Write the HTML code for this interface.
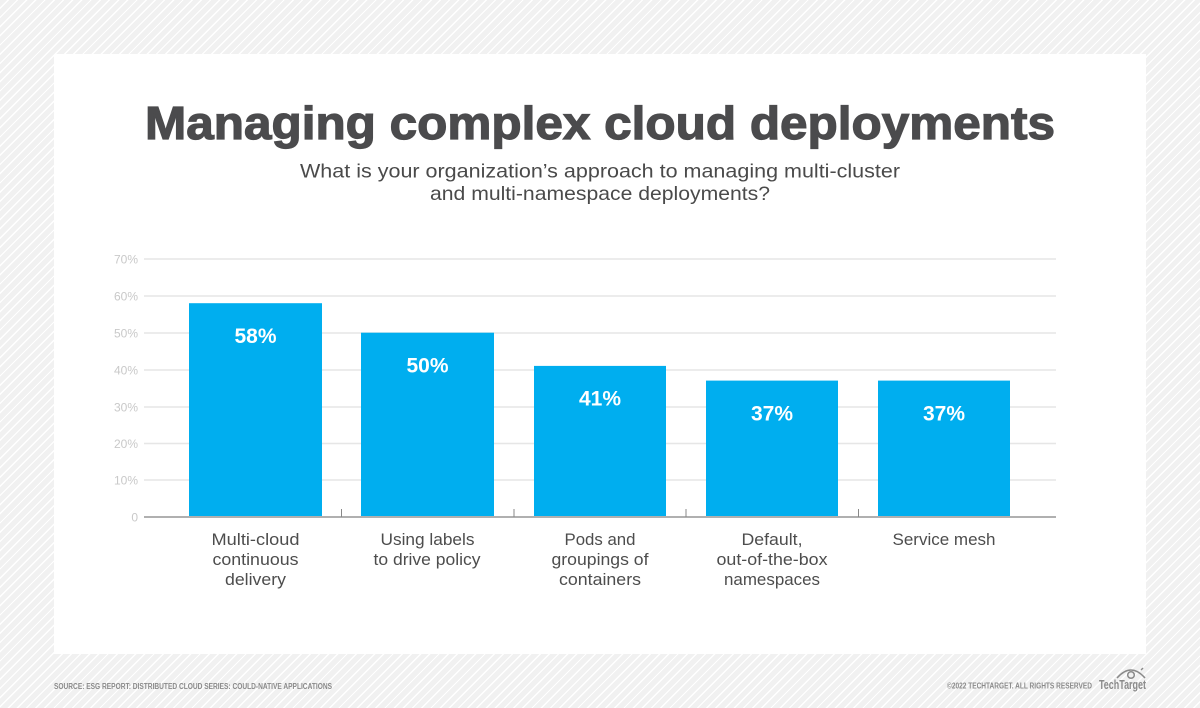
<!DOCTYPE html>
<html><head><meta charset="utf-8"><style>
html,body{margin:0;padding:0;}
body{width:1200px;height:708px;overflow:hidden;background:#f1f1f1;
background-image:repeating-linear-gradient(135deg,#f1f1f1 0px,#f1f1f1 5.2px,#ffffff 5.2px,#ffffff 6.5px);}
svg{display:block;position:absolute;left:0;top:0;}
</style></head><body>
<svg width="1200" height="708" viewBox="0 0 1200 708" xmlns="http://www.w3.org/2000/svg" font-family="Liberation Sans, Arial, sans-serif">
<rect x="54" y="54" width="1092" height="600" fill="#ffffff"/>
<text x="145" y="139" font-size="46" font-weight="bold" fill="#4b4b4d" stroke="#4b4b4d" stroke-width="1.2" textLength="910" lengthAdjust="spacingAndGlyphs">Managing complex cloud deployments</text>
<text x="300" y="177.5" font-size="19.5" fill="#4a4a4a" textLength="600" lengthAdjust="spacingAndGlyphs">What is your organization’s approach to managing multi-cluster</text>
<text x="430" y="200" font-size="19.5" fill="#4a4a4a" textLength="340" lengthAdjust="spacingAndGlyphs">and multi-namespace deployments?</text>
<g stroke="#e6e6e6" stroke-width="1.5">
<line x1="144" y1="259" x2="1056" y2="259"/>
<line x1="144" y1="296" x2="1056" y2="296"/>
<line x1="144" y1="333" x2="1056" y2="333"/>
<line x1="144" y1="370" x2="1056" y2="370"/>
<line x1="144" y1="407" x2="1056" y2="407"/>
<line x1="144" y1="443.5" x2="1056" y2="443.5"/>
<line x1="144" y1="480" x2="1056" y2="480"/>
</g>
<g font-size="12" fill="#c9c9c9" text-anchor="end">
<text x="138" y="263.5">70%</text>
<text x="138" y="300.5">60%</text>
<text x="138" y="337.5">50%</text>
<text x="138" y="374.5">40%</text>
<text x="138" y="411.5">30%</text>
<text x="138" y="448">20%</text>
<text x="138" y="484.5">10%</text>
<text x="138" y="521.5">0</text>
</g>
<g fill="#00aeef">
<rect x="189" y="303.2" width="133" height="213.8"/>
<rect x="361" y="332.7" width="133" height="184.3"/>
<rect x="534" y="365.9" width="132" height="151.1"/>
<rect x="706" y="380.6" width="132" height="136.4"/>
<rect x="878" y="380.6" width="132" height="136.4"/>
</g>
<line x1="144" y1="517" x2="1056" y2="517" stroke="#b0b0b0" stroke-width="2"/>
<g stroke="#888" stroke-width="1">
<line x1="341.5" y1="509" x2="341.5" y2="517"/>
<line x1="514" y1="509" x2="514" y2="517"/>
<line x1="686" y1="509" x2="686" y2="517"/>
<line x1="858.5" y1="509" x2="858.5" y2="517"/>
</g>
<g font-size="21" font-weight="bold" fill="#ffffff" text-anchor="middle">
<text x="255.5" y="343">58%</text>
<text x="427.5" y="372.5">50%</text>
<text x="600" y="405.5">41%</text>
<text x="772" y="420.5">37%</text>
<text x="944" y="420.5">37%</text>
</g>
<g font-size="17" fill="#4d4d4d" text-anchor="middle">
<text x="255.5" y="545" textLength="88" lengthAdjust="spacingAndGlyphs">Multi-cloud</text>
<text x="255.5" y="565" textLength="86" lengthAdjust="spacingAndGlyphs">continuous</text>
<text x="255.5" y="585" textLength="61" lengthAdjust="spacingAndGlyphs">delivery</text>
<text x="427.5" y="545" textLength="94" lengthAdjust="spacingAndGlyphs">Using labels</text>
<text x="427" y="565" textLength="107" lengthAdjust="spacingAndGlyphs">to drive policy</text>
<text x="600" y="545" textLength="71" lengthAdjust="spacingAndGlyphs">Pods and</text>
<text x="600" y="565" textLength="97" lengthAdjust="spacingAndGlyphs">groupings of</text>
<text x="600" y="585" textLength="82" lengthAdjust="spacingAndGlyphs">containers</text>
<text x="772" y="545" textLength="61" lengthAdjust="spacingAndGlyphs">Default,</text>
<text x="772" y="565" textLength="111" lengthAdjust="spacingAndGlyphs">out-of-the-box</text>
<text x="772" y="585" textLength="96" lengthAdjust="spacingAndGlyphs">namespaces</text>
<text x="944" y="545" textLength="103" lengthAdjust="spacingAndGlyphs">Service mesh</text>
</g>
<text x="54" y="689" font-size="8" font-weight="bold" fill="#8a8a8a" textLength="278" lengthAdjust="spacingAndGlyphs">SOURCE: ESG REPORT: DISTRIBUTED CLOUD SERIES: COULD-NATIVE APPLICATIONS</text>
<text x="947" y="688.5" font-size="8" font-weight="bold" fill="#8a8a8a" textLength="145" lengthAdjust="spacingAndGlyphs">©2022 TECHTARGET. ALL RIGHTS RESERVED</text>
<text x="1099" y="689" font-size="13" font-weight="bold" fill="#8a8a8a" textLength="47" lengthAdjust="spacingAndGlyphs">TechTarget</text>
<g fill="none" stroke="#8a8a8a" stroke-width="1.5">
<path d="M1117 678 Q1131 662 1145 678"/>
<circle cx="1131" cy="675" r="3.3"/>
<line x1="1141" y1="670" x2="1143" y2="668"/>
</g>
</svg>
</body></html>
